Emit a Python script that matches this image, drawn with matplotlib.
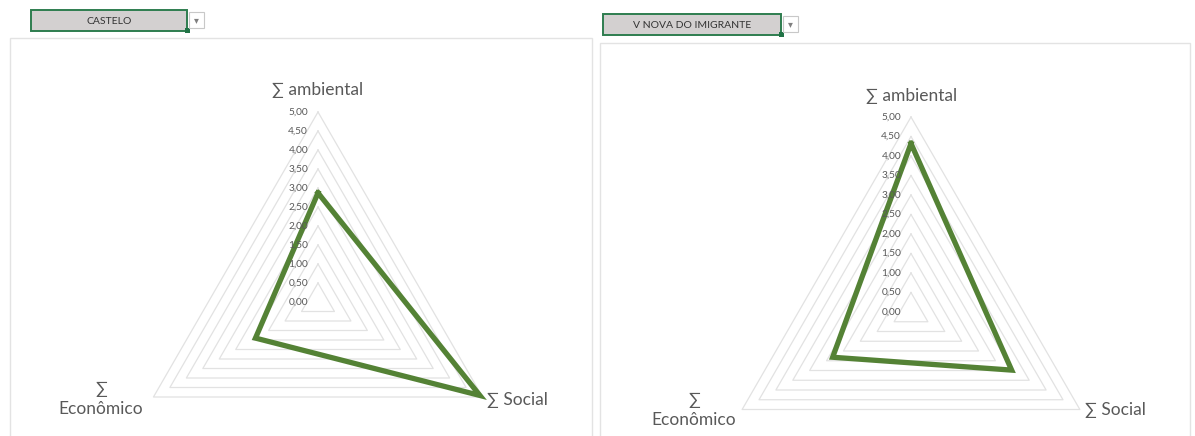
"""Radar (triangular) charts: sustainability indices per municipality"""

import numpy as np
import matplotlib
matplotlib.use('Agg')
import matplotlib.pyplot as plt
from matplotlib.patches import Rectangle
from matplotlib.transforms import offset_copy

plt.rcParams['font.family'] = ['Lato', 'DejaVu Sans']

# data
axes_labels = ['∑ ambiental', '∑ Social', '∑\nEconômico']
municipios = ['CASTELO', 'V NOVA DO IMIGRANTE']
castelo = [2.87, 4.92, 1.90]
vnova = [4.32, 2.98, 2.32]
levels = np.arange(0.5, 5.01, 0.5)
tick_values = np.arange(0, 5.01, 0.5)
tick_labels = ['%.2f' % v for v in tick_values]

W, H = 1195, 436
GREEN = '#548235'
GRID = '#E2E2E2'
TXT = '#595959'

fig = plt.figure(figsize=(W / 100, H / 100), dpi=100)


def fx(x):
    return x / W


def fy(y):
    return 1 - y / H


def frame(x0, y0, x1, y1):
    fig.add_artist(Rectangle((fx(x0), fy(y1)), fx(x1) - fx(x0), fy(y0) - fy(y1),
                             transform=fig.transFigure, fill=False, ec='#E3E3E3', lw=1))


def dropdown(x0, y0, x1, y1, name):
    fig.add_artist(Rectangle((fx(x0), fy(y1)), fx(x1) - fx(x0), fy(y0) - fy(y1),
                             transform=fig.transFigure, fc='#D3D0D0', ec='#2E7D4F', lw=1.4))
    fig.add_artist(Rectangle((fx(x1 - 2), fy(y1 + 2)), fx(5), 5 / H,
                             transform=fig.transFigure, fc='#217346', ec='none'))
    fig.text(fx((x0 + x1) / 2), fy((y0 + y1) / 2 + 0.5), name, ha='center', va='center',
             fontsize=7.5, color='#333333')
    fig.add_artist(Rectangle((fx(x1 + 2), fy(y1 - 3)), fx(15), 16 / H,
                             transform=fig.transFigure, fc='white', ec='#C8C8C8', lw=0.8))
    fig.text(fx(x1 + 9.5), fy((y0 + y1) / 2), '▾', ha='center', va='center',
             fontsize=7, color='#7F7F7F', family='DejaVu Sans')


def radar(cx, cy, R, values, label_pos):
    ax = fig.add_axes([fx(cx - R), fy(cy + R), fx(2 * R), 2 * R / H], projection='polar')
    ax.set_theta_zero_location('N')
    ax.set_theta_direction(-1)
    ax.set_ylim(0, 5)
    ax.set_xticks([])
    ax.set_yticks([])
    ax.grid(False)
    ax.spines['polar'].set_visible(False)
    ax.patch.set_visible(False)
    theta = np.array([0, 2 * np.pi / 3, 4 * np.pi / 3, 0])
    for lv in levels:
        ax.plot(theta, [lv] * 4, color=GRID, lw=0.9, clip_on=False)
    tr = offset_copy(ax.transData, fig=fig, x=-10, y=0, units='dots')
    for lv, lab in zip(tick_values, tick_labels):
        ax.text(0, lv, lab.replace('.', ','), transform=tr, ha='right', va='center',
                fontsize=7.3, color=TXT)
    vals = list(values) + [values[0]]
    ax.plot(theta, vals, color=GREEN, lw=3.8, solid_joinstyle='miter', clip_on=False)
    for (x, y, ha), lab in zip(label_pos, axes_labels):
        fig.text(fx(x), fy(y), lab, ha=ha, va='center', fontsize=12.5, color=TXT,
                 linespacing=1.3)
    return ax


frame(10, 38, 592, 440)
frame(600, 43, 1190, 440)
dropdown(31, 10, 187, 31, municipios[0])
dropdown(603, 14, 781, 35, municipios[1])

radar(318, 302, 190, castelo, [(318, 90, 'center'), (487, 400, 'left'), (101, 399, 'center')])
radar(911, 312, 195, vnova, [(912, 96, 'center'), (1085, 410, 'left'), (694, 410, 'center')])

fig.savefig('out.png', dpi=100)
